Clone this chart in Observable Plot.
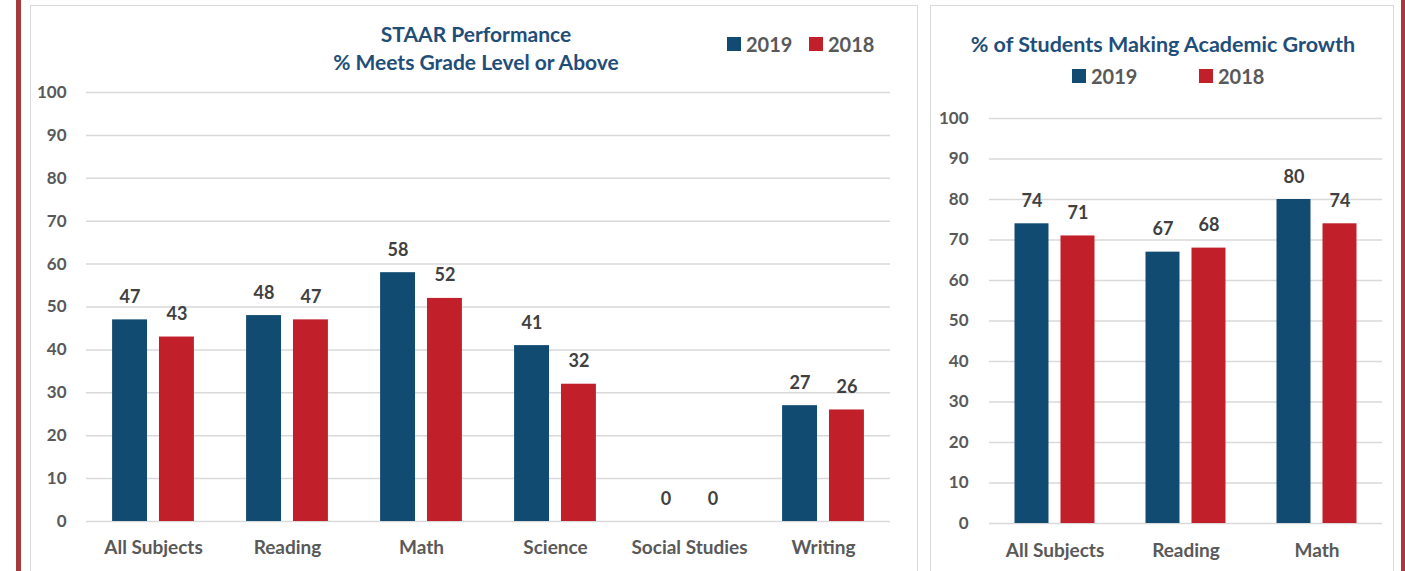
<!DOCTYPE html>
<html><head><meta charset="utf-8">
<script src="https://cdn.jsdelivr.net/npm/d3@7"></script>
<script src="https://cdn.jsdelivr.net/npm/@observablehq/plot@0.6"></script>
<style>
html,body{margin:0;padding:0;width:1405px;height:571px;overflow:hidden;background:#fff;font-family:Lato,sans-serif;}
.redbar{position:absolute;top:0;height:571px;background:#a5393b;}
.panel{position:absolute;top:5px;height:620px;border:1.5px solid #d9d9d9;box-sizing:border-box;background:#fff;}
.title{position:absolute;color:#1f4e79;font-weight:700;font-size:21px;text-align:center;line-height:28px;white-space:nowrap;}
.leg{position:absolute;display:flex;align-items:center;font-weight:700;font-size:20px;color:#595959;height:24px;line-height:24px;}
.sw{display:inline-block;width:14px;height:14px;margin-right:5px;}
.chart{position:absolute;}
</style></head><body>
<div class="redbar" style="left:16px;width:5px;"></div>
<div class="redbar" style="left:1401px;width:4px;"></div>
<div class="panel" style="left:30px;width:888px;"></div>
<div class="panel" style="left:930px;width:464px;"></div>
<div class="title" style="left:276px;width:400px;top:20px;">STAAR Performance<br>% Meets Grade Level or Above</div>
<div class="title" style="left:963px;width:400px;top:30px;font-size:21.5px;">% of Students Making Academic Growth</div>
<div id="legL"></div>
<div id="legR"></div>
<div id="chartL" class="chart" style="left:31px;top:70px;"></div>
<div id="chartR" class="chart" style="left:931px;top:95px;"></div>
<script>
const years = ["2019", "2018"];
const yearColors = ["#114b72", "#c11f29"];
const staarCategories = ["All Subjects", "Reading", "Math", "Science", "Social Studies", "Writing"];
const staar2019 = [47, 48, 58, 41, 0, 27];
const staar2018 = [43, 47, 52, 32, 0, 26];
const growthCategories = ["All Subjects", "Reading", "Math"];
const growth2019 = [74, 67, 80];
const growth2018 = [71, 68, 74];
const yTicks = [0, 10, 20, 30, 40, 50, 60, 70, 80, 90, 100];

function rows(cats, v19, v18) {
  const out = [];
  cats.forEach((c, i) => {
    out.push({cat: c, year: years[0], value: v19[i]});
    out.push({cat: c, year: years[1], value: v18[i]});
  });
  return out;
}

function legend(el, items) {
  const host = document.getElementById(el);
  items.forEach(it => {
    const d = document.createElement("div");
    d.className = "leg";
    d.style.left = it.left + "px";
    d.style.top = it.top + "px";
    d.innerHTML = `<span class="sw" style="background:${it.color}"></span>${it.label}`;
    host.appendChild(d);
  });
}
legend("legL", [
  {left: 727, top: 32, color: yearColors[0], label: years[0]},
  {left: 809, top: 32, color: yearColors[1], label: years[1]}
]);
legend("legR", [
  {left: 1072, top: 64, color: yearColors[0], label: years[0]},
  {left: 1199, top: 64, color: yearColors[1], label: years[1]}
]);

function chart(data, cats, opts) {
  return Plot.plot({
    width: opts.width,
    height: opts.height,
    marginLeft: opts.marginLeft,
    marginRight: opts.marginRight,
    marginTop: opts.marginTop,
    marginBottom: opts.marginBottom,
    style: {background: "transparent", fontFamily: "Lato", fontSize: "17px", fontWeight: "bold", color: "#595959", overflow: "visible"},
    fx: {domain: cats, padding: 0, label: null},
    x: {domain: years, axis: null, paddingInner: opts.pi, paddingOuter: opts.po, round: false},
    y: {domain: [0, 100], label: null},
    color: {domain: years, range: yearColors},
    marks: [
      Plot.gridY(yTicks, {stroke: "#d9d9d9", strokeOpacity: 1, strokeWidth: 1.5}),
      Plot.axisY(yTicks, {tickSize: 0, tickPadding: opts.yPad, fontSize: 17, label: null}),
      Plot.axisFx({anchor: "bottom", tickSize: 0, tickPadding: opts.fxPad, fontSize: 19, label: null}),
      Plot.barY(data, {fx: "cat", x: "year", y: "value", fill: "year"}),
      Plot.text(data, {fx: "cat", x: "year", y: "value", text: d => String(d.value), lineAnchor: "bottom", dy: -17, fill: "#404040", fontSize: 18, fontWeight: "bold"})
    ]
  });
}

document.getElementById("chartL").appendChild(chart(rows(staarCategories, staar2019, staar2018), staarCategories, {
  width: 870, height: 501, marginLeft: 54, marginRight: 10, marginTop: 22, marginBottom: 50,
  pi: 0.255, po: 0.5565, yPad: 20, fxPad: 19
}));
document.getElementById("chartR").appendChild(chart(rows(growthCategories, growth2019, growth2018), growthCategories, {
  width: 460, height: 476, marginLeft: 58, marginRight: 9, marginTop: 23, marginBottom: 48,
  pi: 0.261, po: 0.5545, yPad: 21, fxPad: 20
}));
</script>
</body></html>
